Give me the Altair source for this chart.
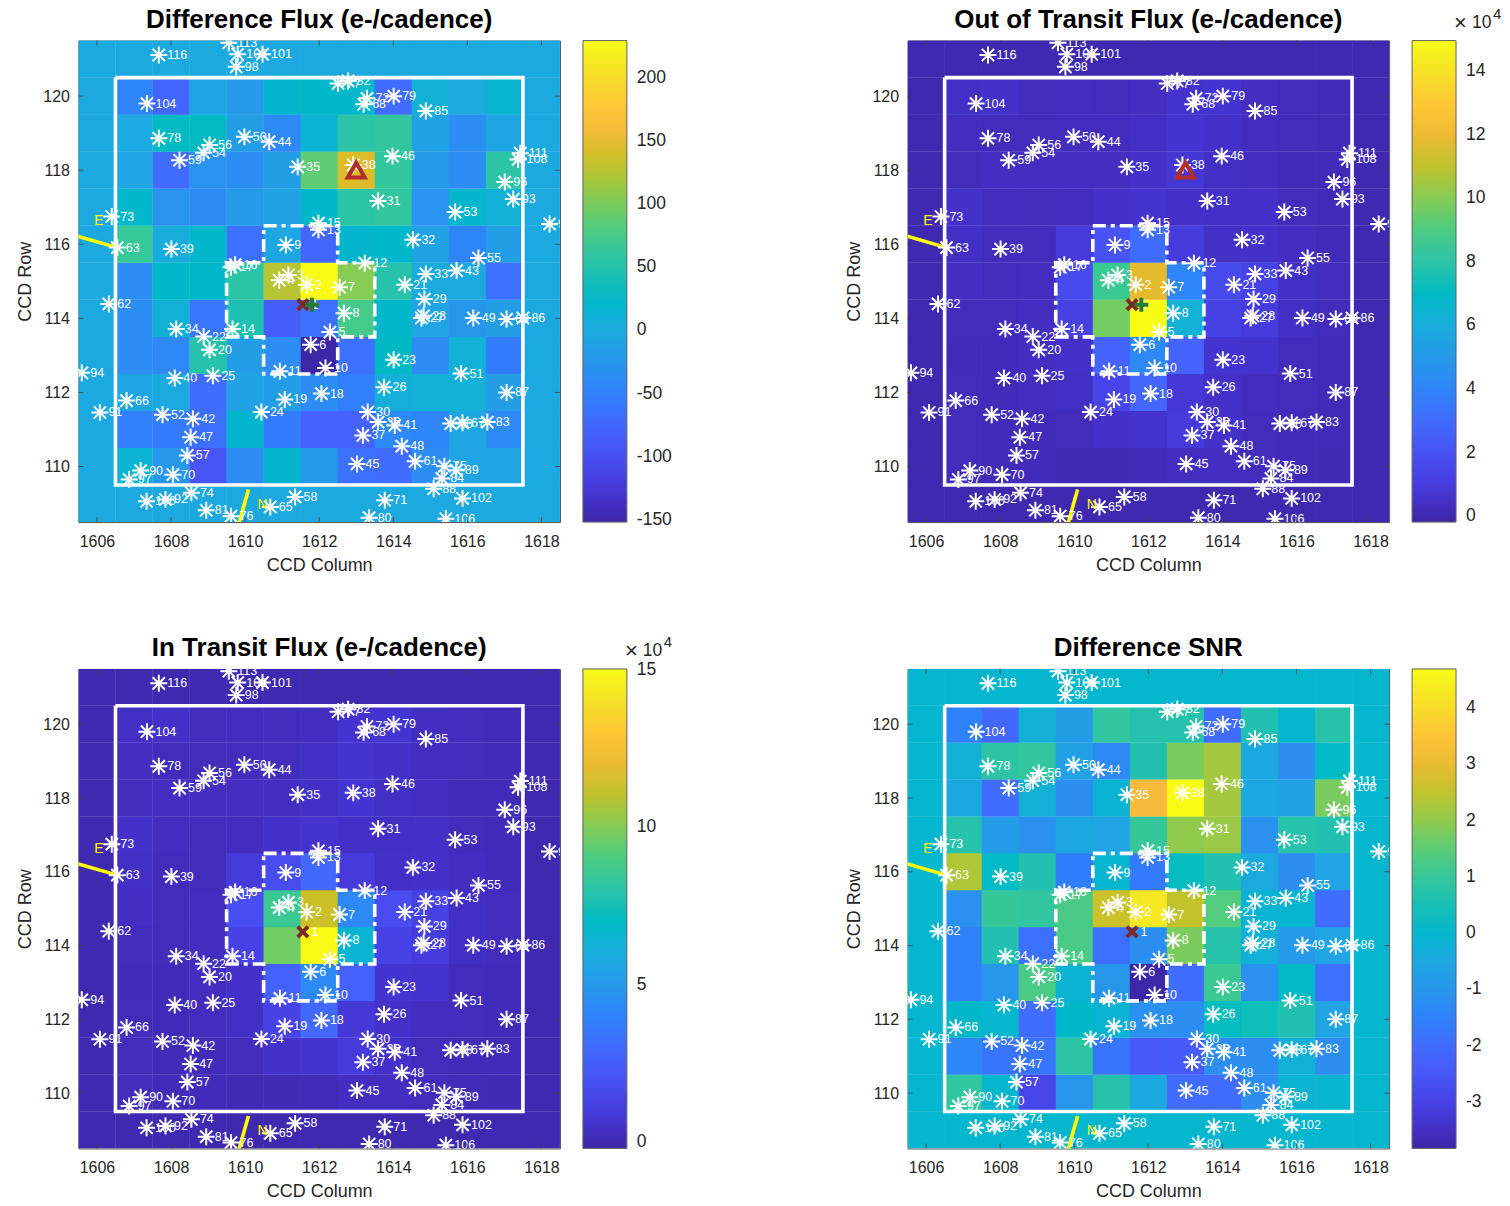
import altair as alt
import pandas as pd

FONT = "Liberation Sans"

PARULA = [
 [0.2422,0.1504,0.6603],[0.2504,0.1650,0.7076],[0.2578,0.1818,0.7511],[0.2647,0.1978,0.7952],
 [0.2706,0.2147,0.8364],[0.2751,0.2342,0.8710],[0.2783,0.2559,0.8991],[0.2803,0.2782,0.9221],
 [0.2813,0.3006,0.9414],[0.2810,0.3228,0.9579],[0.2795,0.3447,0.9717],[0.2760,0.3667,0.9829],
 [0.2699,0.3892,0.9906],[0.2602,0.4123,0.9952],[0.2440,0.4358,0.9988],[0.2206,0.4603,0.9973],
 [0.1963,0.4847,0.9892],[0.1834,0.5074,0.9798],[0.1786,0.5289,0.9682],[0.1764,0.5499,0.9520],
 [0.1687,0.5703,0.9359],[0.1540,0.5902,0.9218],[0.1460,0.6091,0.9079],[0.1380,0.6276,0.8973],
 [0.1248,0.6459,0.8883],[0.1113,0.6635,0.8763],[0.0952,0.6798,0.8598],[0.0689,0.6948,0.8394],
 [0.0297,0.7082,0.8163],[0.0036,0.7203,0.7917],[0.0067,0.7312,0.7660],[0.0433,0.7411,0.7394],
 [0.0964,0.7500,0.7120],[0.1408,0.7584,0.6842],[0.1717,0.7670,0.6554],[0.1938,0.7758,0.6251],
 [0.2161,0.7843,0.5923],[0.2470,0.7918,0.5567],[0.2906,0.7973,0.5188],[0.3406,0.8008,0.4789],
 [0.3909,0.8029,0.4354],[0.4456,0.8024,0.3909],[0.5044,0.7993,0.3480],[0.5616,0.7942,0.3045],
 [0.6174,0.7876,0.2612],[0.6720,0.7793,0.2227],[0.7242,0.7698,0.1910],[0.7738,0.7598,0.1646],
 [0.8203,0.7498,0.1535],[0.8634,0.7406,0.1596],[0.9035,0.7330,0.1774],[0.9393,0.7288,0.2100],
 [0.9728,0.7298,0.2394],[0.9956,0.7434,0.2371],[0.9970,0.7659,0.2199],[0.9952,0.7893,0.2028],
 [0.9892,0.8136,0.1885],[0.9786,0.8386,0.1766],[0.9676,0.8639,0.1643],[0.9610,0.8890,0.1537],
 [0.9597,0.9135,0.1423],[0.9628,0.9373,0.1265],[0.9691,0.9606,0.1064],[0.9769,0.9839,0.0805],
]
parula_hex = ["#%02x%02x%02x" % tuple(round(c * 255) for c in rgb) for rgb in PARULA]

columns = list(range(1607, 1618))
rows_top_down = list(range(120, 109, -1))

diff_flux = [
 [-45,-75,-5,-20,20,25,25,-70,12,0,18],
 [-2,30,30,-15,-40,15,55,60,-10,-35,-5],
 [-8,-70,-30,-35,-15,88,145,62,-20,-35,55],
 [25,-28,-35,-20,-10,25,55,60,-30,20,12],
 [65,5,22,-65,-5,-75,20,22,-10,-45,-15],
 [-35,25,25,55,125,230,105,50,2,0,-65],
 [-35,12,-60,45,-85,-65,75,25,-8,-25,-15],
 [-35,-40,50,-15,-35,-152,-65,28,-35,10,-55],
 [-5,0,-70,-10,-15,-35,-50,8,10,10,-12],
 [-50,-55,-65,20,-55,-80,-80,-40,-45,-5,-40],
 [15,-25,-95,-35,20,-20,-65,-70,-35,-8,-5],
]
oot_flux = [
 [.4,.5,.2,.25,.2,.3,.6,.7,.3,.2,.15],
 [.25,.2,.2,.25,.25,.4,.65,.5,.25,.2,.15],
 [.2,.3,.3,.3,.3,.5,.75,.4,.3,.15,.15],
 [.5,.25,.2,.25,.5,.6,.5,.45,.45,.2,.15],
 [.4,.2,.2,.9,2.0,3.1,1.0,.45,.5,.3,.15],
 [.3,.2,.25,1.6,8.6,11.8,4.0,1.6,1.3,.4,.25],
 [.2,.2,.3,1.2,9.7,15,6.3,1.3,1.0,.4,.2],
 [.15,.15,.3,.5,2.7,4.3,2.7,.7,.6,.2,.15],
 [.2,.15,.25,.4,1.4,2.8,.8,.5,.25,.2,.15],
 [.2,.15,.15,.2,.5,.6,.9,.5,.2,.15,.15],
 [.2,.15,.15,.1,.1,.15,.3,.3,.2,.15,.1],
]
in_flux = [
 [.4,.5,.2,.25,.2,.3,.6,.7,.3,.2,.15],
 [.25,.2,.2,.25,.25,.4,.6,.5,.25,.2,.15],
 [.2,.3,.3,.3,.3,.45,.7,.4,.3,.15,.15],
 [.5,.25,.2,.25,.5,.6,.45,.4,.45,.2,.15],
 [.4,.2,.2,.9,1.7,2.9,.9,.45,.5,.3,.15],
 [.3,.2,.25,1.8,8.6,11.3,4.2,1.7,1.3,.4,.25],
 [.2,.2,.3,1.3,9.7,15,6.5,1.3,1.0,.4,.2],
 [.15,.15,.3,.5,2.6,4.3,2.6,.7,.6,.2,.15],
 [.2,.15,.25,.4,1.3,2.9,.8,.5,.25,.2,.15],
 [.2,.15,.15,.2,.5,.6,.9,.5,.2,.15,.15],
 [.2,.15,.15,.1,.1,.15,.3,.3,.2,.15,.1],
]
diff_snr = [
 [-1.5,-2.1,-.2,-.8,.9,.65,.65,-2.0,.6,0,.7],
 [-.2,.8,.9,-.7,-1.3,.6,1.8,2.2,-.5,-1.2,.2],
 [-.5,-2.0,-.2,-1.2,-.1,3.2,4.7,2.2,-.5,-.7,1.8],
 [.7,-.9,-1.1,-.5,-.6,1.0,2.0,2.1,-1.1,.7,.6],
 [2.3,.2,.6,-1.6,-.05,-1.7,.3,.6,-.4,-1.2,-.6],
 [-1.1,1.0,.9,1.3,2.6,4.3,2.5,1.4,-.1,-.05,-2.0],
 [-1.5,.6,-1.9,1.3,-1.9,-1.2,1.8,.7,-.2,-.9,-.6],
 [-1.5,-1.0,1.3,-.1,-1.0,-3.83,-2.0,1.1,-1.1,.2,-1.9],
 [.1,0,-2.0,.1,-.1,-1.1,-1.2,.3,.4,.6,-.6],
 [-1.4,-1.8,-1.8,.8,-1.8,-2.4,-2.4,-1.2,-1.2,-.2,-1.2],
 [.9,0,-2.9,-1.0,.7,-.5,-2.0,-2.0,-1.2,-.1,-.05],
]

star_labels = ["116","113","103","101","98","104","78","56","54","59","50","44","35","73","63","39",
 "16","17","9","15","13","82","77","72","68","79","85","46","111","108","38","96","93","31","53","32",
 "99","55","43","33","12","21","62","34","22","20","14","8","5","6","10","11","94","40","25","66","19",
 "18","91","52","42","24","47","57","90","70","97","74","58","92","100","81","76","65","3","4","2","7",
 "29","28","27","49","69","86","23","51","26","87","30","36","41","37","60","67","83","48","45","61",
 "75","89","84","88","71","102","80","106"]
star_cols = [1607.67,1609.56,1609.80,1610.47,1609.76,1607.35,1607.67,1609.04,1608.88,1608.23,1609.98,1610.65,
 1611.42,1606.40,1606.55,1608.01,1609.73,1609.62,1611.10,1611.98,1611.98,1612.78,1612.51,1613.29,1613.20,
 1614.01,1614.88,1613.98,1617.43,1617.37,1612.92,1617.01,1617.24,1613.59,1615.67,1614.53,1618.22,1616.30,
 1615.71,1614.88,1613.23,1614.31,1606.32,1608.14,1608.88,1609.04,1609.66,1612.67,1612.29,1611.77,1612.17,
 1610.94,1605.59,1608.10,1609.13,1606.80,1611.07,1612.06,1606.08,1607.77,1608.59,1610.44,1608.53,1608.44,
 1607.18,1608.05,1606.87,1608.55,1611.35,1607.85,1607.34,1608.95,1609.62,1610.68,1611.17,1610.92,1611.66,
 1612.55,1614.84,1614.82,1614.76,1616.16,1617.06,1617.50,1614.01,1615.83,1613.75,1617.06,1613.31,1613.59,
 1614.04,1613.18,1615.55,1615.87,1616.54,1614.23,1613.02,1614.59,1615.38,1615.70,1615.31,1615.09,1613.77,
 1615.87,1613.35,1615.42]
star_rows = [121.11,121.44,121.13,121.13,120.79,119.80,118.86,118.68,118.47,118.27,118.90,118.77,118.09,116.75,
 115.91,115.87,115.45,115.38,115.98,116.57,116.39,120.41,120.34,119.94,119.78,120.00,119.60,118.38,118.46,
 118.29,118.14,117.68,117.22,117.17,116.87,116.12,116.55,115.63,115.29,115.20,115.49,114.91,114.39,113.71,
 113.51,113.15,113.71,114.14,113.63,113.29,112.66,112.57,112.53,112.39,112.45,111.78,111.81,111.97,111.46,
 111.40,111.29,111.47,110.79,110.30,109.89,109.78,109.65,109.29,109.18,109.11,109.06,108.82,108.66,108.91,
 115.17,115.03,114.91,114.84,114.52,114.07,114.01,114.01,113.98,114.01,112.88,112.51,112.14,112.00,111.47,
 111.20,111.11,110.84,111.16,111.18,111.20,110.55,110.07,110.14,110.01,109.90,109.68,109.40,109.09,109.14,
 108.62,108.59]

target_cross = {"col": 1611.56, "row": 114.37, "label": "1"}
fit_plus = {"col": 1611.81, "row": 114.37}
centroid_triangle = {"col": 1613.0, "row": 118.0}

outer_x = [1606.5, 1617.5, 1617.5, 1606.5, 1606.5]
outer_y = [120.5, 120.5, 109.5, 109.5, 120.5]
aperture_x = [1610.5,1612.5,1612.5,1613.5,1613.5,1612.5,1612.5,1610.5,1610.5,1609.5,1609.5,1610.5,1610.5]
aperture_y = [116.5,116.5,115.5,115.5,113.5,113.5,112.5,112.5,113.5,113.5,115.5,115.5,116.5]
east_x = [1606.55, 1605.30]
east_y = [115.91, 116.27]
north_x = [1610.09, 1609.80]
north_y = [109.38, 108.35]
compass_labels = [("E", 1606.05, 116.62), ("N", 1610.47, 108.97)]

x_ticks = list(range(1606, 1619, 2))
y_ticks = list(range(110, 121, 2))
X_DOM = [1605.5, 1618.5]
Y_DOM = [108.5, 121.5]

STAR = "M-1,0L1,0M0,-1L0,1M-0.72,-0.72L0.72,0.72M-0.72,0.72L0.72,-0.72"
CROSS = "M-1,-1L1,1M-1,1L1,-1"
PLUS = "M-1,0L1,0M0,-1L0,1"

AXIS_STYLE = dict(format="d", grid=False, ticks=False, domain=False,
                  labelFont=FONT, labelFontSize=16, labelColor="#262626",
                  titleFont=FONT, titleFontSize=18, titleFontWeight="normal", titleColor="#262626",
                  labelFlush=False, labelOverlap=False)
X_AXIS = alt.Axis(title="CCD Column", values=x_ticks, labelPadding=11.5, titlePadding=6.5, **AXIS_STYLE)
Y_AXIS = alt.Axis(title="CCD Row", values=y_ticks, labelPadding=9, titlePadding=8, **AXIS_STYLE)

def X(field="col", **k):
    return alt.X(f"{field}:Q", scale=alt.Scale(domain=X_DOM, nice=False, zero=False), axis=X_AXIS, **k)

def Y(field="row", **k):
    return alt.Y(f"{field}:Q", scale=alt.Scale(domain=Y_DOM, nice=False, zero=False), axis=Y_AXIS, **k)

def panel(title, matrix, cdomain, cticks, h, exponent=False, extras=True):
    W = 482
    cells = []
    for r in range(109, 122):
        for c in range(1606, 1619):
            v = 0
            if c in columns and r in rows_top_down:
                v = matrix[rows_top_down.index(r)][columns.index(c)]
            cells.append({"c0": c - .5, "c1": c + .508, "r0": r - .5, "r1": r + .508, "v": v})
    heat = alt.Chart(pd.DataFrame(cells)).mark_rect(clip=True).encode(
        x=X("c0"), x2="c1:Q",
        y=Y("r0"), y2="r1:Q",
        color=alt.Color("v:Q", scale=alt.Scale(domain=cdomain, range=parula_hex, nice=False, zero=False),
                        legend=alt.Legend(title=None, orient="right", offset=23, gradientLength=h,
                                          gradientThickness=44, values=cticks, labelFont=FONT, labelFontSize=17.5,
                                          labelColor="#262626", labelOffset=10, labelExpr="'' + datum.value",
                                          gradientStrokeColor="#606060", gradientStrokeWidth=1,
                                          labelOverlap=False)))

    def path(xs, ys, **k):
        df = pd.DataFrame({"col": xs, "row": ys, "i": range(len(xs))})
        return alt.Chart(df).mark_line(clip=True, **k).encode(x=X(), y=Y(), order="i:Q")

    outer = path(outer_x, outer_y, color="white", strokeWidth=3.6)
    aperture = path(aperture_x, aperture_y, color="white", strokeWidth=3.6, strokeDash=[13, 5, 4, 5])
    east = path(east_x, east_y, color="#ffff00", strokeWidth=3.6)
    north = path(north_x, north_y, color="#ffff00", strokeWidth=3.6)

    sdf = pd.DataFrame({"label": star_labels, "col": star_cols, "row": star_rows})
    stars = alt.Chart(sdf).mark_point(shape=STAR, size=289, filled=False, stroke="white", strokeWidth=2,
                                      opacity=1, clip=True).encode(x=X(), y=Y())
    labels = alt.Chart(sdf).mark_text(align="left", baseline="middle", dx=8.5, font=FONT, fontSize=12.5,
                                      color="white", clip=True).encode(x=X(), y=Y(), text="label:N")
    cdf = pd.DataFrame({"label": [l for l, _, _ in compass_labels],
                        "col": [c for _, c, _ in compass_labels],
                        "row": [r for _, _, r in compass_labels]})
    compass = alt.Chart(cdf).mark_text(font=FONT, fontSize=14, color="#ffff00", clip=True).encode(
        x=X(), y=Y(), text="label:N")
    tdf = pd.DataFrame([target_cross])
    tlabel = alt.Chart(tdf).mark_text(align="left", baseline="middle", dx=8.5, font=FONT, fontSize=12.5,
                                      color="white").encode(x=X(), y=Y(), text="label:N")
    cross = alt.Chart(tdf).mark_point(shape=CROSS, size=110, filled=False, stroke="#7b2a2a", strokeWidth=4,
                                      opacity=1).encode(x=X(), y=Y())
    layers = [heat, outer, aperture, east, north, stars, labels, compass, tlabel, cross]
    if extras:
        layers.append(alt.Chart(pd.DataFrame([centroid_triangle])).mark_point(
            shape="triangle-up", size=290, filled=False, stroke="#b22c2c", strokeWidth=4, opacity=1
        ).encode(x=X(), y=Y()))
        layers.append(alt.Chart(pd.DataFrame([fit_plus])).mark_point(
            shape=PLUS, size=196, filled=False, stroke="#2a7a30", strokeWidth=4, opacity=1
        ).encode(x=X(), y=Y()))

    xt = pd.DataFrame({"col": x_ticks})
    yt = pd.DataFrame({"row": y_ticks})
    tick_color = "#404040"
    layers += [
        alt.Chart(xt).mark_rule(color=tick_color, strokeWidth=.8).encode(x=X(), y=alt.value(h - 5), y2=alt.value(h)),
        alt.Chart(xt).mark_rule(color=tick_color, strokeWidth=.8).encode(x=X(), y=alt.value(0), y2=alt.value(5)),
        alt.Chart(yt).mark_rule(color=tick_color, strokeWidth=.8).encode(y=Y(), x=alt.value(0), x2=alt.value(5)),
        alt.Chart(yt).mark_rule(color=tick_color, strokeWidth=.8).encode(y=Y(), x=alt.value(W - 5), x2=alt.value(W)),
    ]
    # inward ticks on the colour bar, placed through the shared row scale
    span = Y_DOM[1] - Y_DOM[0]
    cbar = pd.DataFrame({"row": [Y_DOM[0] + (t - cdomain[0]) / (cdomain[1] - cdomain[0]) * span for t in cticks]})
    layers.append(alt.Chart(cbar).mark_rule(color="#505050", strokeWidth=1).encode(
        y=Y(), x=alt.value(W + 22 + 38), x2=alt.value(W + 22 + 44)))
    one = pd.DataFrame({"title": [title], "a": ["×"], "t": ["10"], "s": ["4"]})
    layers.append(alt.Chart(one).mark_text(align="center", baseline="middle", font=FONT, fontSize=26,
                                           fontWeight="bold", color="black").encode(
        x=alt.value(W / 2), y=alt.value(-21), text="title:N"))
    if exponent:
        layers.append(alt.Chart(one).mark_text(align="left", baseline="middle", font=FONT, fontSize=22,
                                               color="#262626").encode(x=alt.value(W + 65), y=alt.value(-18), text="a:N"))
        layers.append(alt.Chart(one).mark_text(align="left", baseline="middle", font=FONT, fontSize=17.5,
                                               color="#262626").encode(x=alt.value(W + 83), y=alt.value(-18), text="t:N"))
        layers.append(alt.Chart(one).mark_text(align="left", baseline="middle", font=FONT, fontSize=15,
                                               color="#262626").encode(x=alt.value(W + 104), y=alt.value(-27), text="s:N"))
    return alt.layer(*layers).resolve_scale(color="independent").properties(width=W, height=h)

p1 = panel("Difference Flux (e-/cadence)", diff_flux, [-152, 230], [-150,-100,-50,0,50,100,150,200], 482)
p2 = panel("Out of Transit Flux (e-/cadence)", oot_flux, [-0.19, 14.97], [0,2,4,6,8,10,12,14], 482, exponent=True)
p3 = panel("In Transit Flux (e-/cadence)", in_flux, [-0.19, 15.02], [0,5,10,15], 480, exponent=True, extras=False)
p4 = panel("Difference SNR", diff_snr, [-3.83, 4.7], [-3,-2,-1,0,1,2,3,4], 480, extras=False)

chart = alt.concat(p1, p2, p3, p4, columns=2, bounds="flush",
                   spacing={"row": 147, "column": 348}).resolve_scale(
    color="independent").configure_view(stroke="#505050", strokeWidth=1).properties(
    padding={"left": 7.5, "top": -3, "right": 0, "bottom": 0}, background="white")

chart.save("out.html", embed_options={"renderer": "svg", "actions": False})
